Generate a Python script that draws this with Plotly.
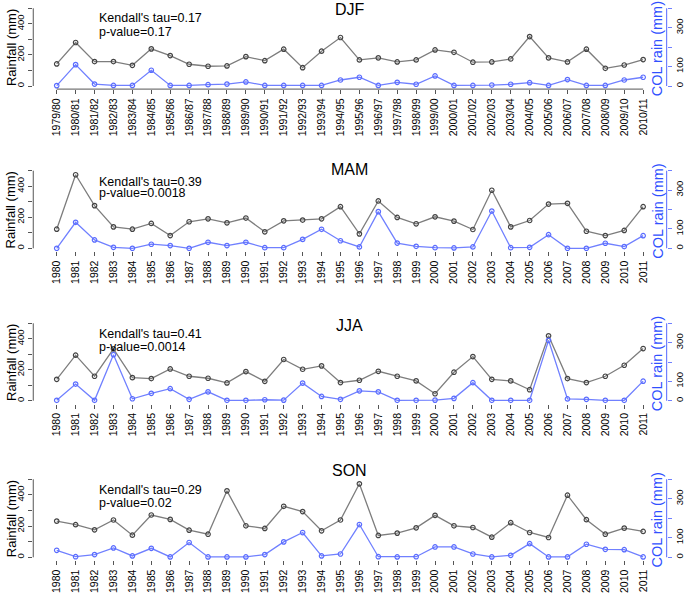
import plotly.graph_objects as go

# ---------------- data ----------------
seasons_djf = ["1979/80", "1980/81", "1981/82", "1982/83", "1983/84", "1984/85", "1985/86", "1986/87",
               "1987/88", "1988/89", "1989/90", "1990/91", "1991/92", "1992/93", "1993/94", "1994/95",
               "1995/96", "1996/97", "1997/98", "1998/99", "1999/00", "2000/01", "2001/02", "2002/03",
               "2003/04", "2004/05", "2005/06", "2006/07", "2007/08", "2008/09", "2009/10", "2010/11"]
years = [str(y) for y in range(1980, 2012)]

djf_total = [142, 280, 157, 157, 133, 239, 196, 140, 127, 129, 189, 163, 237, 118, 224, 312,
             168, 181, 155, 168, 232, 217, 153, 155, 174, 318, 181, 155, 237, 114, 135, 170]
djf_col = [2, 110, 10, 3, 3, 81, 3, 3, 7, 10, 21, 3, 3, 3, 3, 31,
           45, 3, 19, 9, 52, 3, 3, 5, 9, 17, 3, 33, 3, 3, 31, 45]

mam_total = [123, 474, 275, 138, 123, 160, 82, 171, 190, 164, 195, 106, 177, 182, 190, 268,
             93, 305, 199, 158, 203, 175, 121, 374, 138, 179, 285, 290, 110, 82, 115, 268]
mam_col = [0, 134, 43, 5, 0, 21, 14, 0, 31, 14, 31, 3, 3, 46, 98, 39,
           7, 189, 27, 10, 3, 2, 7, 192, 3, 5, 70, 0, 0, 26, 9, 65]

jja_total = [138, 294, 158, 335, 149, 143, 205, 158, 145, 115, 188, 125, 266, 203, 225, 117,
             132, 190, 158, 128, 45, 184, 285, 138, 128, 71, 419, 143, 117, 158, 229, 337]
jja_col = [2, 86, 2, 238, 10, 38, 62, 7, 46, 2, 2, 5, 3, 91, 22, 7,
           51, 46, 2, 2, 3, 12, 93, 2, 2, 2, 312, 9, 7, 2, 2, 101]

son_total = [232, 209, 176, 239, 142, 271, 243, 174, 148, 426, 202, 185, 327, 293, 170, 239,
             471, 140, 155, 189, 269, 202, 191, 129, 222, 159, 127, 398, 241, 148, 187, 166]
son_col = [36, 3, 14, 48, 7, 46, 2, 76, 2, 2, 2, 14, 79, 127, 7, 17,
           168, 3, 2, 3, 53, 53, 17, 2, 10, 70, 2, 2, 67, 41, 39, 2]

season_names = ["DJF", "MAM", "JJA", "SON"]
kendall_tau = ["0.17", "0.39", "0.41", "0.29"]
p_values = ["0.17", "0.0018", "0.0014", "0.02"]

left_ticks = [0, 100, 200, 300, 400, 500]
left_ticktext = ["0", "", "200", "", "400", ""]
right_ticks = [0, 100, 200, 300, 400]
right_ticktext = ["0", "100", "", "300", ""]

# ---------------- layout geometry (pixels) ----------------
W, H = 685, 594
FONT = "Liberation Sans, Arial, sans-serif"
GRAY_LINE = "#7d7d7d"
GRAY_MARK = "#444444"
BLUE_LINE = "#7080ff"
BLUE_TEXT = "#3050ff"
AXIS_COL = "#555555"

# pixel y of value 0 and 500 (left axis) per panel
panel_px = [(86.0, 8.3), (248.3, 170.7), (400.7, 323.3), (557.3, 479.3)]
title_px = [9.5, 169.7, 325.3, 470.5]
text_px = [(18, 32), (181.7, 193.3), (334, 346.7), (490, 503.3)]
x_left_px, x_right_px = 33.5, 671.5

panels = [
    (seasons_djf, djf_total, djf_col),
    (years, mam_total, mam_col),
    (years, jja_total, jja_col),
    (years, son_total, son_col),
]

fig = go.Figure()
layout = dict(
    width=W, height=H,
    margin=dict(l=0, r=0, t=0, b=0),
    paper_bgcolor="white", plot_bgcolor="white",
    showlegend=False,
    font=dict(family=FONT, color="black"),
)
shapes = []
annotations = []

def px2py(y):
    return 1 - y / H

for i, (cats, total, col) in enumerate(panels):
    k = i + 1
    xa = "x" if k == 1 else f"x{k}"
    yl = "y" if k == 1 else f"y{2 * k - 1}"
    yr = f"y{2 * k}"
    xkey = "xaxis" if k == 1 else f"xaxis{k}"
    ylkey = "yaxis" if k == 1 else f"yaxis{2 * k - 1}"
    yrkey = f"yaxis{2 * k}"

    y0, ytop = panel_px[i]
    s = (y0 - ytop) / 500.0
    bottom = y0 + 20 * s
    top = ytop - 20 * s

    fig.add_trace(go.Scatter(
        x=cats, y=total, xaxis=xa, yaxis=yl, mode="lines+markers",
        line=dict(color=GRAY_LINE, width=1.3),
        marker=dict(symbol="circle-open", size=4.5, color=GRAY_MARK, line=dict(width=1.2)),
        hoverinfo="skip"))
    fig.add_trace(go.Scatter(
        x=cats, y=col, xaxis=xa, yaxis=yr, mode="lines+markers",
        line=dict(color=BLUE_LINE, width=1.3),
        marker=dict(symbol="circle-open", size=4.5, color="#5a6cff", line=dict(width=1.2)),
        hoverinfo="skip"))

    layout[xkey] = dict(
        domain=[x_left_px / W, x_right_px / W], anchor=yl,
        type="category", range=[-1.24, len(cats) - 1 + 1.24],
        tickmode="array", tickvals=cats, ticktext=cats,
        tickangle=-90, ticks="outside", ticklen=4, tickcolor=AXIS_COL,
        tickfont=dict(size=10.5, family=FONT, color="black"),
        showline=False, showgrid=False, zeroline=False,
    )
    layout[ylkey] = dict(
        domain=[px2py(bottom), px2py(top)], anchor=xa,
        range=[-20, 520], tickmode="array", tickvals=left_ticks, ticktext=left_ticktext,
        tickangle=-90, ticks="outside", ticklen=4, tickcolor=AXIS_COL,
        tickfont=dict(size=9.5, family=FONT, color="black"),
        showline=False, showgrid=False, zeroline=False,
    )
    layout[yrkey] = dict(
        overlaying=yl, side="right", anchor=xa,
        range=[-16, 416], tickmode="array", tickvals=right_ticks, ticktext=right_ticktext,
        tickangle=-90, ticks="outside", ticklen=4, tickcolor=BLUE_LINE,
        tickfont=dict(size=9.5, family=FONT, color="black"),
        showline=False, showgrid=False, zeroline=False,
    )

    # R-style axis lines spanning only the tick range
    shapes.append(dict(type="line", xref=f"{xa} domain", x0=0, x1=0, yref=yl, y0=0, y1=500,
                       line=dict(color=AXIS_COL, width=1)))
    shapes.append(dict(type="line", xref=f"{xa} domain", x0=1, x1=1, yref=yr, y0=0, y1=400,
                       line=dict(color=BLUE_LINE, width=1.2)))
    shapes.append(dict(type="line", xref=xa, x0=cats[0], x1=cats[-1], yref=f"{yl} domain", y0=0, y1=0,
                       line=dict(color=AXIS_COL, width=1)))

    # title
    annotations.append(dict(text=season_names[i], xref="paper", yref="paper",
                            x=(x_left_px + x_right_px) / 2 / W, y=px2py(title_px[i]),
                            xanchor="center", yanchor="middle", showarrow=False,
                            font=dict(size=16, family=FONT, color="black")))
    # Kendall text
    t1, t2 = text_px[i]
    annotations.append(dict(text=f"Kendall's tau={kendall_tau[i]}", xref="paper", yref="paper",
                            x=98 / W, y=px2py(t1), xanchor="left", yanchor="middle", showarrow=False,
                            font=dict(size=12.5, family=FONT, color="black")))
    annotations.append(dict(text=f"p-value={p_values[i]}", xref="paper", yref="paper",
                            x=98 / W, y=px2py(t2), xanchor="left", yanchor="middle", showarrow=False,
                            font=dict(size=12.5, family=FONT, color="black")))
    # axis titles
    yc = y0 - 250 * s
    annotations.append(dict(text="Rainfall (mm)", xref="paper", yref="paper",
                            x=11 / W, y=px2py(yc), xanchor="center", yanchor="middle",
                            textangle=-90, showarrow=False,
                            font=dict(size=13, family=FONT, color="black")))
    annotations.append(dict(text="COL rain (mm)", xref="paper", yref="paper",
                            x=662 / W, y=px2py(yc + 2), xanchor="center", yanchor="middle",
                            textangle=-90, showarrow=False,
                            font=dict(size=14.5, family=FONT, color=BLUE_TEXT)))

layout["shapes"] = shapes
layout["annotations"] = annotations
fig.update_layout(**layout)

fig.write_html("out.html", config={"displayModeBar": False, "staticPlot": True},
               post_script="document.body.style.margin='0';document.body.style.overflow='hidden';")
